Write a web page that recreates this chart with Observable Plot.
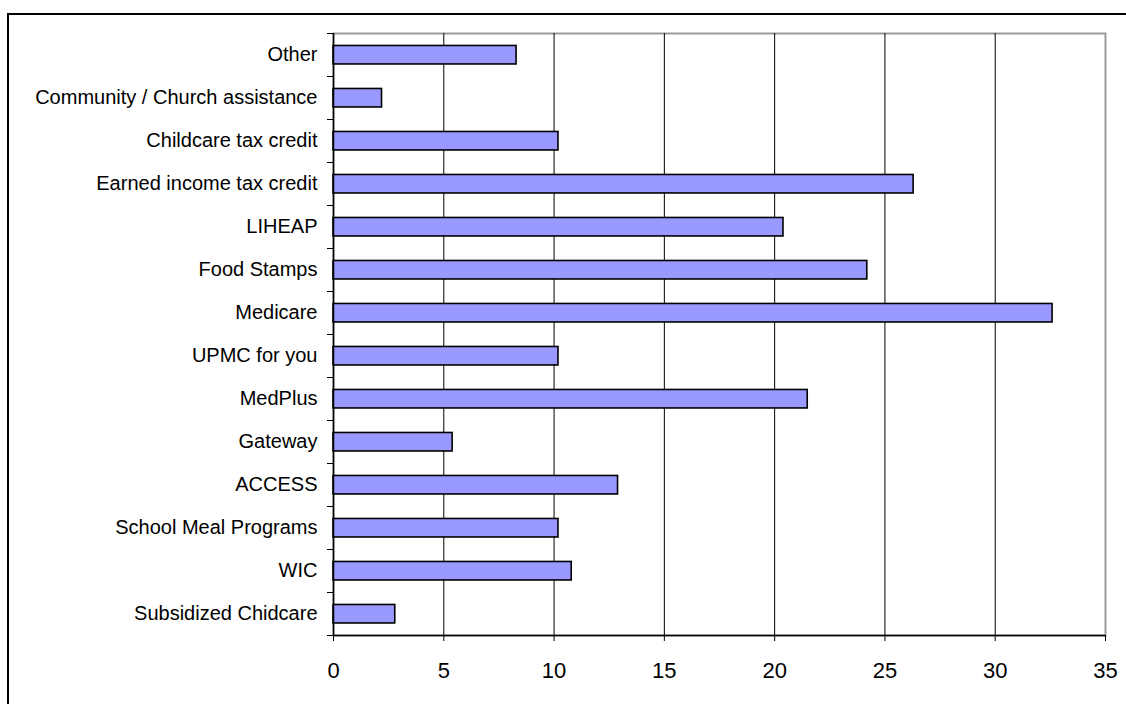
<!DOCTYPE html>
<html><head><meta charset="utf-8">
<script src="https://cdn.jsdelivr.net/npm/d3@7"></script>
<script src="https://cdn.jsdelivr.net/npm/@observablehq/plot@0.6"></script>
<style>
html,body{margin:0;padding:0;background:#fff;overflow:hidden;}
#wrap{position:relative;width:1126px;height:704px;overflow:hidden;background:#fff;}
#border{position:absolute;left:7px;top:13px;width:1300px;height:900px;border:2px solid #000;box-sizing:border-box;}
#chart{position:absolute;left:0;top:0;}
</style></head><body>
<div id="wrap"><div id="border"></div><div id="chart"></div></div>
<script>
const categories = [
  "Other",
  "Community / Church assistance",
  "Childcare tax credit",
  "Earned income tax credit",
  "LIHEAP",
  "Food Stamps",
  "Medicare",
  "UPMC for you",
  "MedPlus",
  "Gateway",
  "ACCESS",
  "School Meal Programs",
  "WIC",
  "Subsidized Chidcare"
];
const values = [8.3, 2.2, 10.2, 26.3, 20.4, 24.2, 32.6, 10.2, 21.5, 5.4, 12.9, 10.2, 10.8, 2.8];
const xTicks = [0, 5, 10, 15, 20, 25, 30, 35];
const gridTicks = [5, 10, 15, 20, 25, 30];

const data = categories.map((c, i) => ({category: c, index: i, value: values[i]}));
const n = categories.length;

const chart = Plot.plot({
  width: 1126,
  height: 704,
  marginLeft: 333,
  marginRight: 21,
  marginTop: 33,
  marginBottom: 69,
  style: {fontFamily: "Arial, 'Liberation Sans', sans-serif", background: "transparent", color: "#000"},
  x: {domain: [0, 35], label: null},
  y: {domain: [0, n], reverse: true, label: null},
  marks: [
    Plot.frame({stroke: "#999", strokeWidth: 2}),
    Plot.ruleX(gridTicks, {stroke: "#000", strokeWidth: 1}),
    Plot.rect(data, {
      x1: 0, x2: "value",
      y1: d => d.index + 0.29, y2: d => d.index + 0.72,
      fill: "#9999ff", stroke: "#000", strokeWidth: 1.6
    }),
    Plot.ruleX([0], {stroke: "#000", strokeWidth: 1.5}),
    Plot.ruleY([n], {stroke: "#000", strokeWidth: 1.5}),
    Plot.axisY(d3.range(0, n + 1), {anchor: "left", tickSize: 6, tickFormat: () => "", label: null}),
    Plot.axisY(categories.map((c, i) => i + 0.5), {
      anchor: "left", tickSize: 0, tickPadding: 16, fontSize: 20, label: null,
      tickFormat: v => categories[Math.round(v - 0.5)]
    }),
    Plot.axisX(xTicks, {anchor: "bottom", tickSize: 6, tickPadding: 21, fontSize: 22, label: null})
  ]
});
document.getElementById("chart").appendChild(chart);
</script>
</body></html>
